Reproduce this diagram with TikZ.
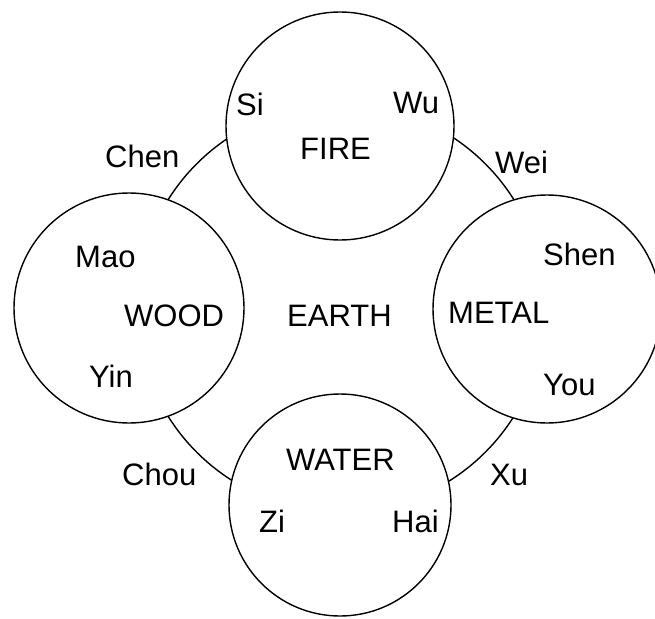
\documentclass[tikz,border=0pt]{standalone}
\usepackage{fontspec}
\setmainfont{Liberation Sans}
\begin{document}
\begin{tikzpicture}[x=1pt,y=-1pt,
  ring/.style={circle,draw,line width=1.4pt,inner sep=0pt},
  elem/.style={ring,fill=white},
  lbl/.style={anchor=base west,inner sep=0pt,font=\fontsize{31}{31}\selectfont}]
\useasboundingbox (0,0) rectangle (655,618);
% earth circle (visible only between the element circles)
\node[ring,minimum size=408pt] (earthring) at (341,308) {};
% element circles
\node[elem,minimum size=228pt] (fire) at (340,126) {};
\node[elem,minimum size=230pt] (wood) at (129,308) {};
\node[elem,minimum size=228pt] (metal) at (547,309) {};
\node[elem,minimum size=222pt] (water) at (340,505) {};
% labels
\node[lbl] (si) at (236,115) {Si};
\node[lbl] (wu) at (393,113) {Wu};
\node[lbl] (firel) at (300,159) {FIRE};
\node[lbl] (chen) at (105,167) {Chen};
\node[lbl] (wei) at (495,173) {Wei};
\node[lbl] (mao) at (75,267) {Mao};
\node[lbl] (woodl) at (124,326) {WOOD};
\node[lbl] (yin) at (89,387) {Yin};
\node[lbl] (earth) at (287,326) {EARTH};
\node[lbl] (shen) at (543,265) {Shen};
\node[lbl] (metall) at (448,323) {METAL};
\node[lbl] (you) at (543,395) {You};
\node[lbl] (waterl) at (286,470) {WATER};
\node[lbl] (zi) at (259,532) {Zi};
\node[lbl] (hai) at (392,532) {Hai};
\node[lbl] (chou) at (122,485) {Chou};
\node[lbl] (xu) at (490,485) {Xu};
\end{tikzpicture}
\end{document}
